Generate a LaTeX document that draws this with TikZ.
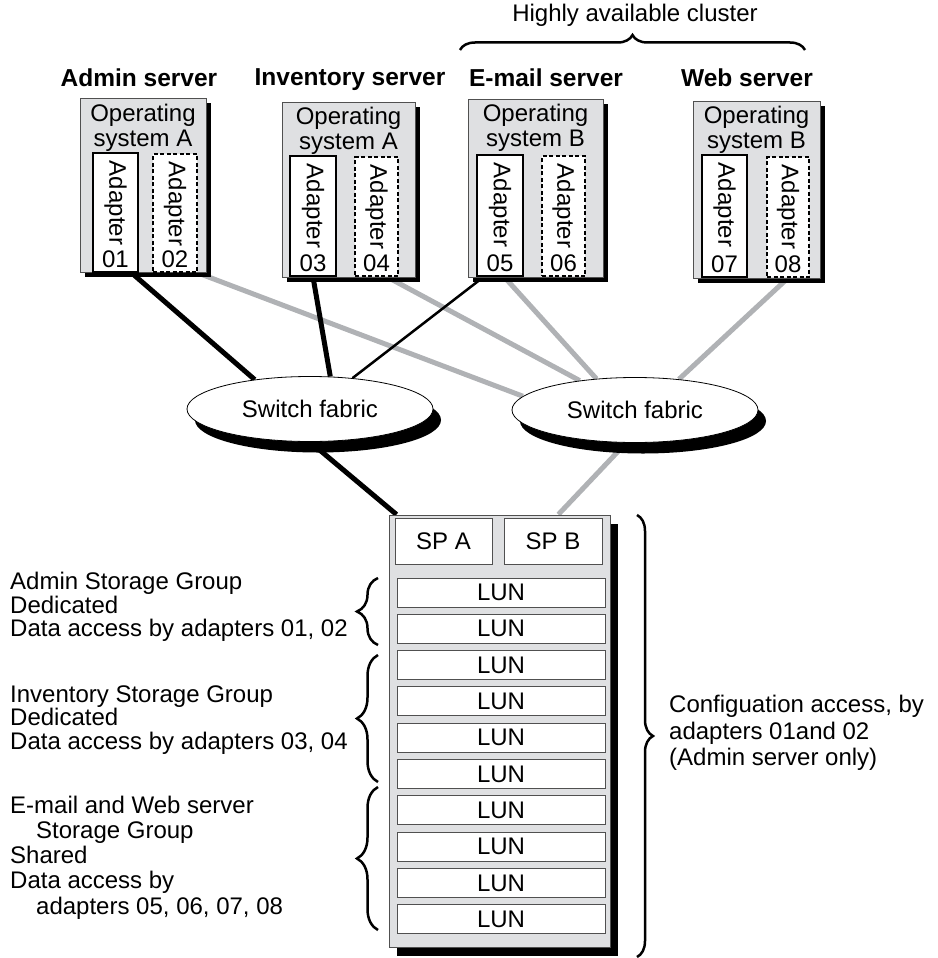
\documentclass[tikz,border=0pt]{standalone}
\usepackage{fontspec}
\setmainfont{Liberation Sans}
\usepackage{xcolor}
\usepackage{tikz}
\usetikzlibrary{shapes.geometric,shadows,decorations.pathreplacing,backgrounds,calc}

\definecolor{boxgray}{RGB}{223,224,226}
\definecolor{cablegray}{RGB}{176,178,181}
\definecolor{rimgray}{RGB}{80,80,80}

\tikzset{
  txt/.style={font=\fontsize{24}{25}\selectfont, inner sep=0pt},
  title/.style={font=\fontsize{24.5}{25}\selectfont\bfseries, inner sep=0pt},
  server/.style={draw=rimgray, line width=1pt, fill=boxgray, inner sep=0pt,
    drop shadow={shadow xshift=5pt, shadow yshift=-5pt, fill=black, opacity=1}},
  adapter/.style={draw=black, line width=2pt, fill=white, inner sep=0pt},
  spare/.style={adapter, dash pattern=on 4pt off 2.5pt},
  fabric/.style={ellipse, draw=black, line width=0.8pt, fill=white, inner sep=0pt,
    minimum width=246pt, minimum height=65pt, font=\fontsize{24}{25}\selectfont,
    drop shadow={shadow xshift=8pt, shadow yshift=-11pt, fill=black, opacity=1}},
  storage/.style={draw=rimgray, line width=1pt, fill=boxgray, inner sep=0pt,
    drop shadow={shadow xshift=8pt, shadow yshift=-9pt, fill=black, opacity=1}},
  spbox/.style={draw=rimgray, line width=1pt, fill=white, inner sep=0pt,
    minimum width=97pt, minimum height=46pt, font=\fontsize{24}{25}\selectfont},
  lun/.style={draw=rimgray, line width=1pt, fill=white, inner sep=0pt,
    minimum width=208pt, minimum height=29pt, font=\fontsize{24}{25}\selectfont},
  active/.style={line width=5pt, draw=black},
  standby/.style={line width=5pt, draw=cablegray},
  hostlink/.style={line width=2.5pt, draw=black},
  curly/.style={decorate, decoration={brace, amplitude=#1}, line width=2.5pt}
}

\begin{document}
\begin{tikzpicture}[x=1pt, y=-1pt]

\useasboundingbox (0,0) rectangle (937,958);

\node[txt] (cluster) at (635,15) {Highly available cluster};
\draw[curly=15pt] (460,50) -- (805,50);

% servers
\node[title] (ladmin) at (139,78) {Admin server};
\node[title] (linventory) at (350,80) {Inventory server};
\node[title] (lemail) at (546,78) {E-mail server};
\node[title] (lweb) at (747,78) {Web server};

\node[server, minimum width=126pt, minimum height=174pt] (admin) at (143,185) {};
\node[server, minimum width=133pt, minimum height=175pt] (inventory) at (348.5,189.5) {};
\node[server, minimum width=135pt, minimum height=178pt] (email) at (535.5,188) {};
\node[server, minimum width=127pt, minimum height=177pt] (web) at (756.5,189.5) {};

\node[txt, align=center] (osadmin) at (143,128) {Operating\\system A};
\node[txt, align=center] (osinventory) at (348.5,131) {Operating\\system A};
\node[txt, align=center] (osemail) at (535.5,128) {Operating\\system B};
\node[txt, align=center] (osweb) at (756.5,130) {Operating\\system B};

\foreach \n/\x/\t/\b/\w/\s in {01/115.5/153/272/45/adapter, 02/175/154/272/44/spare,
  03/313/156/276/46/adapter, 04/376.5/157/276/43/spare,
  05/500/155/276/46/adapter, 06/563.5/156/276/43/spare,
  07/724.5/155/277/45/adapter, 08/788/157/277/42/spare}{
  \pgfmathsetmacro{\h}{\b-\t}
  \node[\s, minimum width=\w pt, minimum height=\h pt] (a\n) at (\x,{(\t+\b)/2}) {};
  \node[txt, rotate=-90] (t\n) at (\x,\t+50) {Adapter};
  \node[txt] (n\n) at (\x,\b-13) {\n};
}

% switch fabrics
\node[fabric] (sw1) at (310,409) {Switch fabric};
\node[fabric] (sw2) at (635,410) {Switch fabric};

% storage system
\node[storage, minimum width=221pt, minimum height=432pt] (stor) at (499.5,731) {};
\node[spbox] (spa) at (443.5,541) {SP A};
\node[spbox, minimum width=98pt] (spb) at (553,541) {SP B};
\foreach \i in {0,...,9}{
  \node[lun] (lun\i) at (501,{592.5+36.3*\i}) {LUN};
}

\coordinate (inA) at ($(stor.north west)!0.036!(stor.north east)$);
\coordinate (inB) at ($(stor.north west)!0.765!(stor.north east)$);

\begin{pgfonlayer}{background}
\draw[standby] (a02.south east) -- (sw2.173);
\draw[standby] (a04.-80) -- (sw2.152);
\draw[standby] (a05.-86) -- (sw2.141);
\draw[standby] (a08.south) -- (sw2.35);
\draw[standby] (sw2.-105) -- (inB);
\draw[active] (a01.-75) -- (sw1.152);
\draw[active] (a03.south) -- (sw1.58);
\draw[hostlink] (a05.-105) -- (sw1.36);
\draw[active] (sw1.south) -- (inA);
\end{pgfonlayer}

% storage groups
\node[txt, anchor=west, align=left, font=\fontsize{24}{23.5}\selectfont] (gadmin) at (10,607)
  {Admin Storage Group\\Dedicated\\Data access by adapters 01, 02};
\node[txt, anchor=west, align=left, font=\fontsize{24}{23.5}\selectfont] (ginventory) at (10,720)
  {Inventory Storage Group\\Dedicated\\Data access by adapters 03, 04};
\node[txt, anchor=west, align=left, font=\fontsize{24}{25.25}\selectfont] (gshared) at (10,857.5)
  {E-mail and Web server\\\hspace*{26pt}Storage Group\\Shared\\Data access by\\\hspace*{26pt}adapters 05, 06, 07, 08};

\draw[curly=21pt] (378,645) -- (378,578);
\draw[curly=21pt] (378,782) -- (378,655);
\draw[curly=21pt] (378,930) -- (378,787);

\draw[curly=16pt] (637,515) -- (637,957);
\node[txt, anchor=west, align=left, font=\fontsize{24}{26.5}\selectfont] (config) at (669,733)
  {Configuation access, by\\adapters 01and 02\\(Admin server only)};

\end{tikzpicture}
\end{document}
